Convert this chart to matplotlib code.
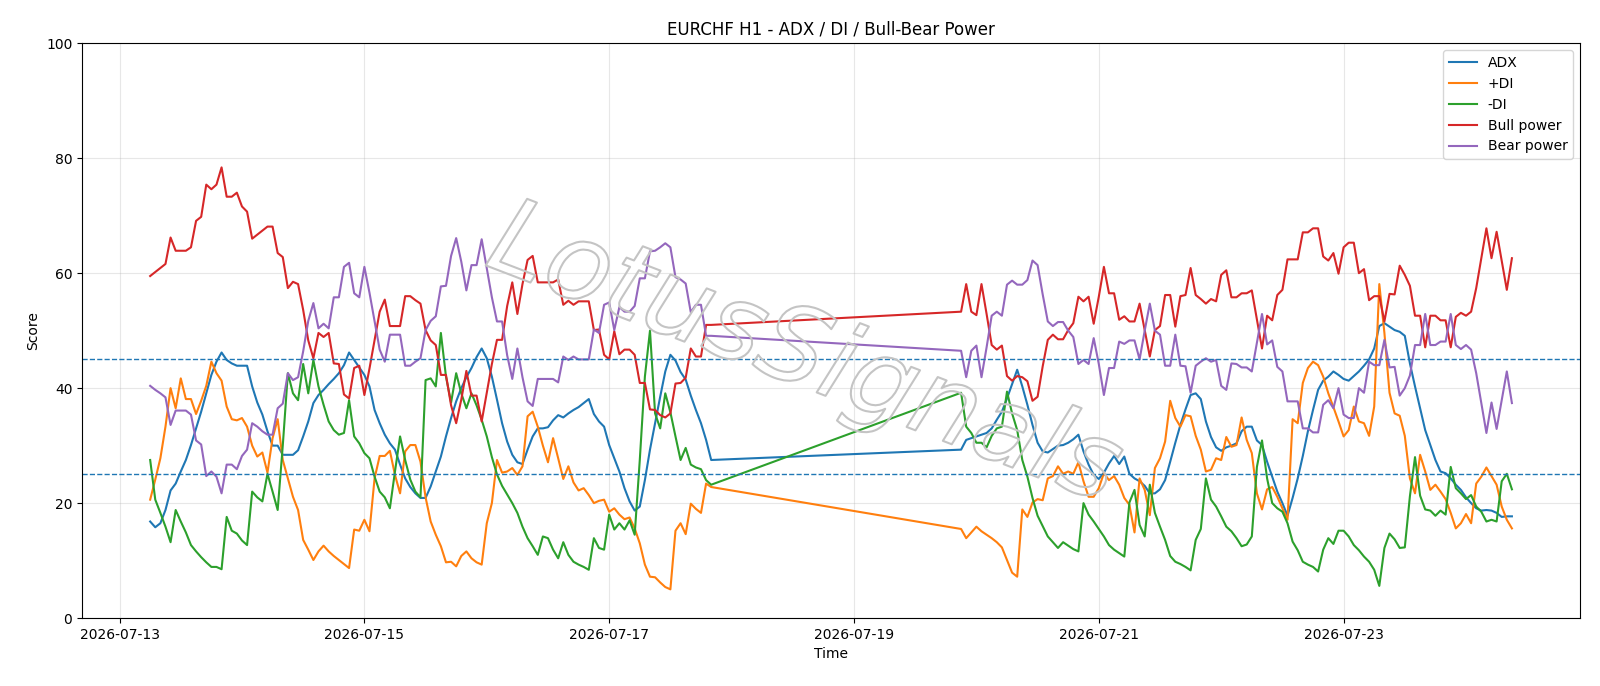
import matplotlib
matplotlib.use("Agg")
import matplotlib.pyplot as plt
import matplotlib.dates as mdates
import matplotlib.patheffects as pe
import pandas as pd

title = "EURCHF H1 - ADX / DI / Bull-Bear Power"
seg1_start = "2026-07-13 06:00"
seg2_start = "2026-07-19 21:00"

# ---- segment 1 (2026-07-13 06:00 .. 2026-07-17 20:00, hourly) ----
adx_1 = [16.8, 15.8, 16.5, 18.8, 22.2, 23.4, 25.5, 27.5, 30.1, 33.0,
         35.9, 39.1, 42.3, 44.6, 46.2, 44.9, 44.3, 43.9, 43.9, 43.9,
         40.3, 37.5, 35.4, 32.5, 30.0, 30.0, 28.4, 28.4, 28.4, 29.2,
         31.6, 34.2, 37.4, 38.8, 39.7, 40.7, 41.6, 42.6, 44.0, 46.2,
         44.9, 43.6, 42.3, 40.3, 36.2, 33.9, 31.9, 30.4, 29.3, 26.7,
         24.3, 22.8, 21.7, 20.9, 20.9, 22.9, 25.5, 28.1, 31.6, 34.8,
         37.7, 40.0, 41.9, 43.5, 45.4, 46.9, 45.2, 42.0, 38.0, 33.9,
         30.7, 28.4, 27.1, 26.8, 29.3, 31.6, 33.0, 33.0, 33.2, 34.4,
         35.3, 34.9, 35.6, 36.2, 36.7, 37.4, 38.1, 35.5, 34.2, 33.3,
         30.1, 27.8, 25.5, 22.6, 20.3, 18.7, 19.4, 24.0, 29.3, 33.9,
         38.5, 42.9, 45.8, 44.8, 42.8, 41.5, 38.7, 36.2, 33.9, 31.0, 27.5]
pdi_1 = [20.6, 24.1, 27.8, 33.3, 40.0, 36.5, 41.7, 38.1, 38.1, 35.5,
         37.8, 40.4, 44.6, 42.6, 41.3, 36.8, 34.6, 34.4, 34.8, 33.3,
         30.0, 28.1, 28.8, 25.3, 31.3, 34.6, 27.5, 24.3, 21.1, 18.8,
         13.6, 11.9, 10.1, 11.6, 12.6, 11.6, 10.8, 10.1, 9.4, 8.7,
         15.4, 15.2, 17.1, 15.1, 24.3, 28.2, 28.2, 29.1, 24.9, 21.7,
         29.0, 30.1, 30.1, 27.2, 21.0, 16.8, 14.5, 12.5, 9.7, 9.8,
         9.0, 10.8, 11.6, 10.4, 9.7, 9.3, 16.5, 20.0, 27.5, 25.3,
         25.5, 26.1, 24.9, 26.4, 35.1, 35.9, 33.3, 30.0, 27.1, 31.3,
         27.8, 24.2, 26.4, 23.6, 22.2, 22.6, 21.4, 20.0, 20.4, 20.6,
         18.5, 19.1, 18.0, 17.2, 17.5, 15.6, 13.0, 9.3, 7.2, 7.1,
         6.2, 5.4, 5.0, 15.2, 16.5, 14.6, 19.9, 19.0, 18.3, 23.4, 22.8]
mdi_1 = [27.5, 20.6, 18.3, 15.9, 13.2, 18.8, 16.8, 14.9, 12.7, 11.6,
         10.6, 9.7, 8.9, 8.9, 8.5, 17.6, 15.2, 14.7, 13.5, 12.7,
         22.0, 21.0, 20.3, 25.1, 22.0, 18.8, 30.0, 42.6, 39.1, 37.9,
         44.2, 39.1, 44.9, 40.3, 37.1, 34.2, 32.7, 31.9, 32.2, 37.9,
         31.6, 30.4, 28.7, 27.8, 24.6, 22.0, 21.0, 19.1, 25.5, 31.6,
         27.5, 24.1, 22.0, 21.0, 41.4, 41.7, 40.3, 49.6, 42.0, 37.5,
         42.6, 39.1, 36.5, 39.1, 37.0, 34.5, 31.6, 28.0, 25.0, 23.0,
         21.5, 20.0, 18.3, 15.9, 13.9, 12.5, 11.0, 14.2, 13.9, 11.9,
         10.4, 13.2, 11.0, 9.8, 9.3, 8.9, 8.4, 13.9, 12.2, 11.9,
         18.0, 15.4, 16.5, 15.4, 17.0, 14.5, 27.5, 42.0, 50.0, 35.6,
         33.0, 39.1, 35.8, 31.6, 27.5, 29.6, 26.7, 26.2, 25.9, 24.0, 23.2]
bull_1 = [59.5, 60.2, 60.9, 61.6, 66.2, 63.9, 63.9, 63.9, 64.5, 69.1,
          69.8, 75.4, 74.6, 75.4, 78.4, 73.3, 73.3, 74.0, 71.6, 70.7,
          66.0, 66.7, 67.4, 68.1, 68.1, 63.5, 62.8, 57.4, 58.5, 58.1,
          53.6, 48.3, 45.2, 49.6, 48.9, 49.6, 44.3, 44.2, 38.9, 38.2,
          43.5, 43.9, 38.8, 43.4, 48.4, 53.3, 55.4, 50.8, 50.8, 50.8,
          56.0, 56.0, 55.3, 54.7, 50.1, 48.3, 47.5, 42.3, 42.3, 37.0,
          33.9, 38.0, 43.0, 38.7, 38.7, 34.2, 39.2, 44.2, 48.4, 48.4,
          54.3, 58.4, 52.9, 58.1, 62.3, 63.0, 58.4, 58.4, 58.4, 58.4,
          58.9, 54.5, 55.2, 54.5, 55.1, 55.1, 55.1, 50.1, 50.2, 45.8,
          45.0, 49.9, 45.9, 46.7, 46.7, 45.8, 40.9, 40.9, 36.3, 36.2,
          35.3, 34.9, 35.6, 40.8, 40.9, 41.8, 46.9, 45.5, 45.5, 51.0, 51.0]
bear_1 = [40.4, 39.7, 39.1, 38.4, 33.6, 36.1, 36.1, 36.1, 35.4, 30.9,
          30.2, 24.7, 25.5, 24.6, 21.7, 26.7, 26.7, 25.9, 28.2, 29.3,
          33.9, 33.3, 32.5, 31.9, 31.9, 36.5, 37.3, 42.6, 41.4, 41.9,
          46.4, 51.7, 54.8, 50.4, 51.2, 50.4, 55.8, 55.8, 61.1, 61.8,
          56.5, 55.8, 61.1, 56.6, 51.6, 46.7, 44.6, 49.3, 49.3, 49.3,
          43.9, 43.9, 44.6, 45.2, 50.1, 51.7, 52.5, 57.7, 57.8, 63.0,
          66.1, 62.0, 57.0, 61.4, 61.4, 65.9, 60.8, 55.8, 51.6, 51.6,
          45.7, 41.6, 46.9, 41.9, 37.7, 36.9, 41.6, 41.6, 41.6, 41.6,
          41.0, 45.5, 44.9, 45.5, 45.0, 45.0, 45.0, 50.2, 49.6, 54.5,
          54.9, 50.1, 54.1, 53.3, 53.3, 54.3, 59.1, 59.1, 63.8, 63.9,
          64.5, 65.2, 64.5, 59.3, 58.9, 58.2, 53.2, 54.5, 54.5, 49.1, 49.1]

# ---- segment 2 (2026-07-19 21:00 .. 2026-07-24 09:00, hourly) ----
adx_2 = [29.3, 31.0, 31.3, 31.6, 31.9, 32.2, 33.0, 34.5, 35.9, 38.2,
         40.7, 43.2, 40.3, 37.1, 33.6, 30.5, 29.0, 28.8, 29.4, 30.0,
         30.1, 30.5, 31.1, 31.9, 29.0, 26.7, 24.9, 24.2, 25.3, 26.9,
         28.2, 26.8, 28.1, 25.1, 24.3, 23.8, 23.0, 21.7, 21.7, 22.4,
         24.0, 27.2, 30.5, 33.6, 36.3, 38.8, 39.1, 38.1, 34.2, 31.5,
         29.7, 29.1, 29.7, 30.0, 30.4, 32.5, 33.3, 33.3, 30.9, 30.1,
         27.2, 24.6, 22.0, 20.0, 17.8, 20.9, 24.3, 28.2, 32.5, 36.2,
         39.7, 41.3, 42.0, 42.9, 42.3, 41.6, 41.3, 42.1, 42.9, 43.9,
         45.0, 46.9, 50.8, 51.3, 50.7, 50.1, 49.8, 49.1, 44.3, 40.3,
         36.5, 32.7, 30.1, 27.5, 25.5, 25.2, 24.3, 23.2, 22.3, 21.0,
         20.0, 19.1, 18.7, 18.8, 18.7, 18.3, 17.6, 17.7, 17.7]
pdi_2 = [15.5, 13.9, 14.9, 15.9, 15.1, 14.5, 13.9, 13.2, 12.3, 10.1,
         7.9, 7.2, 18.9, 17.6, 20.1, 20.7, 20.5, 24.3, 24.7, 26.4,
         25.1, 25.5, 25.1, 27.1, 23.8, 21.1, 21.1, 22.6, 25.2, 24.0,
         24.7, 23.2, 20.9, 19.7, 14.9, 24.3, 22.3, 17.9, 26.1, 27.8,
         30.7, 37.8, 34.8, 33.3, 35.3, 35.1, 31.7, 29.3, 25.5, 25.8,
         27.8, 27.5, 31.5, 29.8, 30.1, 34.9, 31.0, 28.7, 21.7, 18.9,
         22.4, 22.8, 21.1, 19.1, 17.1, 34.6, 33.9, 40.9, 43.5, 44.6,
         44.0, 42.0, 39.1, 36.7, 34.2, 31.6, 32.7, 36.8, 34.2, 33.9,
         31.7, 36.8, 58.1, 49.6, 39.2, 35.6, 35.2, 31.7, 24.3, 21.7,
         28.4, 25.5, 22.3, 23.2, 22.0, 20.7, 18.3, 15.6, 16.5, 18.1,
         16.5, 23.4, 24.6, 26.2, 24.7, 23.2, 19.4, 17.1, 15.6]
mdi_2 = [39.2, 33.3, 32.2, 30.5, 30.5, 29.7, 31.7, 33.0, 33.3, 39.4,
         35.6, 32.7, 27.5, 24.6, 20.9, 17.8, 16.0, 14.2, 13.2, 12.2,
         13.2, 12.6, 12.0, 11.6, 20.0, 18.0, 16.8, 15.5, 14.2, 12.7,
         11.9, 11.3, 10.7, 20.1, 22.3, 16.2, 14.2, 23.2, 18.3, 15.9,
         13.6, 10.8, 9.8, 9.4, 8.9, 8.3, 13.6, 15.5, 24.3, 20.6,
         19.4, 17.7, 15.9, 15.1, 13.9, 12.5, 12.8, 14.2, 26.3, 30.9,
         24.3, 20.0, 19.1, 18.5, 16.5, 13.3, 11.8, 9.8, 9.3, 8.9,
         8.1, 11.9, 13.9, 12.9, 15.2, 15.2, 14.2, 12.7, 11.8, 10.7,
         9.8, 8.4, 5.6, 12.2, 14.7, 13.7, 12.2, 12.3, 21.2, 28.0,
         21.3, 18.9, 18.7, 17.8, 18.7, 18.0, 26.3, 22.6, 21.7, 20.7,
         21.4, 19.4, 18.5, 16.8, 17.1, 16.8, 23.8, 25.1, 22.4]
bull_2 = [53.3, 58.1, 53.3, 52.7, 58.1, 52.9, 47.5, 46.7, 47.4, 42.1,
          41.3, 42.1, 41.9, 41.2, 37.8, 38.5, 43.8, 48.4, 49.3, 48.5,
          48.5, 50.1, 51.3, 55.9, 55.1, 55.9, 51.2, 55.9, 61.1, 56.5,
          56.5, 51.9, 52.5, 51.6, 51.6, 54.7, 50.1, 45.5, 50.1, 50.8,
          56.2, 56.2, 50.7, 56.0, 56.2, 60.9, 56.2, 55.5, 54.7, 55.5,
          55.1, 59.7, 60.5, 55.8, 55.8, 56.5, 56.5, 57.0, 51.9, 46.9,
          52.6, 51.8, 56.2, 57.1, 62.4, 62.4, 62.4, 67.1, 67.1, 67.8,
          67.8, 62.9, 62.2, 63.5, 59.9, 64.5, 65.3, 65.3, 60.0, 60.7,
          55.3, 56.0, 56.0, 51.6, 56.4, 56.3, 61.3, 59.7, 57.8, 52.6,
          52.6, 47.1, 52.6, 52.6, 51.8, 51.8, 47.1, 52.4, 53.1, 52.6,
          53.3, 57.4, 62.6, 67.8, 62.6, 67.2, 62.1, 57.1, 62.6]
bear_2 = [46.5, 41.9, 46.5, 47.4, 41.9, 47.1, 52.6, 53.3, 52.6, 58.0,
          58.7, 58.0, 58.0, 58.8, 62.2, 61.4, 56.3, 51.6, 50.8, 51.5,
          51.5, 50.0, 48.9, 44.2, 44.9, 44.2, 48.7, 44.2, 38.8, 43.5,
          43.5, 48.1, 47.7, 48.3, 48.3, 45.0, 50.0, 54.7, 50.0, 49.3,
          43.9, 43.9, 49.3, 43.9, 43.8, 39.2, 43.9, 44.6, 45.2, 44.6,
          44.9, 40.4, 39.7, 44.3, 44.2, 43.6, 43.6, 42.9, 47.9, 52.9,
          47.6, 48.3, 43.7, 42.9, 37.7, 37.7, 37.7, 33.0, 33.0, 32.3,
          32.3, 37.1, 37.9, 36.5, 40.0, 35.4, 34.8, 34.8, 40.0, 39.2,
          44.6, 44.0, 44.0, 48.4, 43.6, 43.7, 38.7, 40.0, 42.2, 47.5,
          47.5, 52.9, 47.5, 47.5, 48.1, 48.1, 52.9, 47.5, 46.8, 47.5,
          46.7, 42.6, 37.4, 32.2, 37.5, 32.9, 37.9, 42.9, 37.4]

levels = [25, 45]
watermark = "LotusSignals"

t1 = pd.date_range(seg1_start, periods=len(adx_1), freq="h")
t2 = pd.date_range(seg2_start, periods=len(adx_2), freq="h")
times = list(t1) + list(t2)

series = [
    ("ADX", adx_1 + adx_2),
    ("+DI", pdi_1 + pdi_2),
    ("-DI", mdi_1 + mdi_2),
    ("Bull power", bull_1 + bull_2),
    ("Bear power", bear_1 + bear_2),
]

fig = plt.figure(figsize=(16, 6.86), dpi=100)
ax = fig.add_axes([0.0513, 0.099, 0.9362, 0.838])

for name, vals in series:
    ax.plot(times, vals, label=name, linewidth=1.5)

for lv in levels:
    ax.axhline(lv, linestyle="--", linewidth=1, color="C0")

ax.set_ylim(0, 100)
ax.grid(True, alpha=0.3)
ax.set_title(title)
ax.set_xlabel("Time")
ax.set_ylabel("Score")
ax.xaxis.set_major_locator(mdates.DayLocator(bymonthday=range(1, 32, 2)))
ax.xaxis.set_major_formatter(mdates.DateFormatter("%Y-%m-%d"))
ax.legend(loc="upper right")

ax.text(0.482, 0.455, watermark, transform=ax.transAxes, fontsize=76,
        rotation=-21, ha="center", va="center", style="italic",
        fontweight="light", color=(1, 1, 1, 0), zorder=5,
        path_effects=[pe.withStroke(linewidth=1.5, foreground="#c4c4c4")])

fig.savefig("out.png", dpi=100)
